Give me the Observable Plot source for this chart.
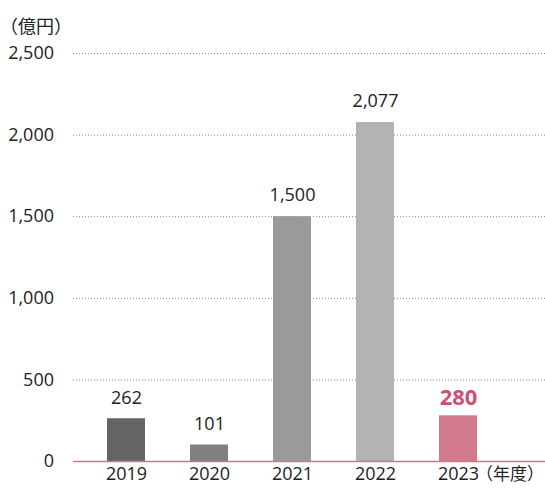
<!DOCTYPE html>
<html><head><meta charset="utf-8">
<script src="https://cdn.jsdelivr.net/npm/d3@7"></script>
<script src="https://cdn.jsdelivr.net/npm/@observablehq/plot@0.6"></script>
<style>body{margin:0;background:#fff;} svg{display:block;}</style>
</head><body><div id="chart"></div>
<script>
const years = ["2019", "2020", "2021", "2022", "2023"];
const values = [262, 101, 1500, 2077, 280];
const barColors = ["#646464", "#808080", "#9a9a9a", "#b3b3b3", "#d17a8e"];
const yTicks = [0, 500, 1000, 1500, 2000, 2500];
const unitLabel = "（億円）";
const xUnitLabel = "（年度）";

const data = years.map((y, i) => ({year: y, value: values[i], color: barColors[i], last: i === years.length - 1}));
const font = "'Open Sans', 'Noto Sans CJK JP', sans-serif";

const chart = Plot.plot({
  width: 545,
  height: 488,
  marginLeft: 84.5,
  marginRight: 45.5,
  marginTop: 53,
  marginBottom: 27,
  style: {fontFamily: font, fontSize: "18px", color: "#222", background: "#fff"},
  x: {domain: years, paddingInner: 0.54, paddingOuter: 0.27, axis: null},
  y: {domain: [0, 2500], axis: null},
  marks: [
    Plot.ruleY(yTicks.filter(d => d > 0), {stroke: "#888", strokeDasharray: "1,2", strokeWidth: 1, insetLeft: -11.5, insetRight: -45.5}),
    Plot.barY(data, {x: "year", y: "value", fill: "color"}),
    Plot.ruleY([0], {stroke: "#d0758a", strokeWidth: 1.5, insetLeft: -11.5, insetRight: -45.5}),
    Plot.text(yTicks, {y: d => d, frameAnchor: "left", dx: -31, textAnchor: "end", text: d => d3.format(",")(d), fontSize: 18, fill: "#222"}),
    Plot.text(years, {x: d => d, frameAnchor: "bottom", dy: 18, text: d => d, fontSize: 18, fill: "#222"}),
    Plot.text(data.filter(d => !d.last), {x: "year", y: "value", dy: -21, text: d => d3.format(",")(d.value), fontSize: 18, fill: "#222"}),
    Plot.text(data.filter(d => d.last), {x: "year", y: "value", dy: -18, text: d => d3.format(",")(d.value), fontSize: 22, fontWeight: "bold", fill: "#c9536f"}),
    Plot.text([unitLabel], {frameAnchor: "top-left", dx: -85, dy: -33, textAnchor: "start", fontSize: 18, fill: "#222"}),
    Plot.text([xUnitLabel], {frameAnchor: "bottom-right", dx: 44, dy: 18, textAnchor: "end", fontSize: 17, fill: "#222"})
  ]
});
document.getElementById("chart").appendChild(chart);
</script></body></html>
